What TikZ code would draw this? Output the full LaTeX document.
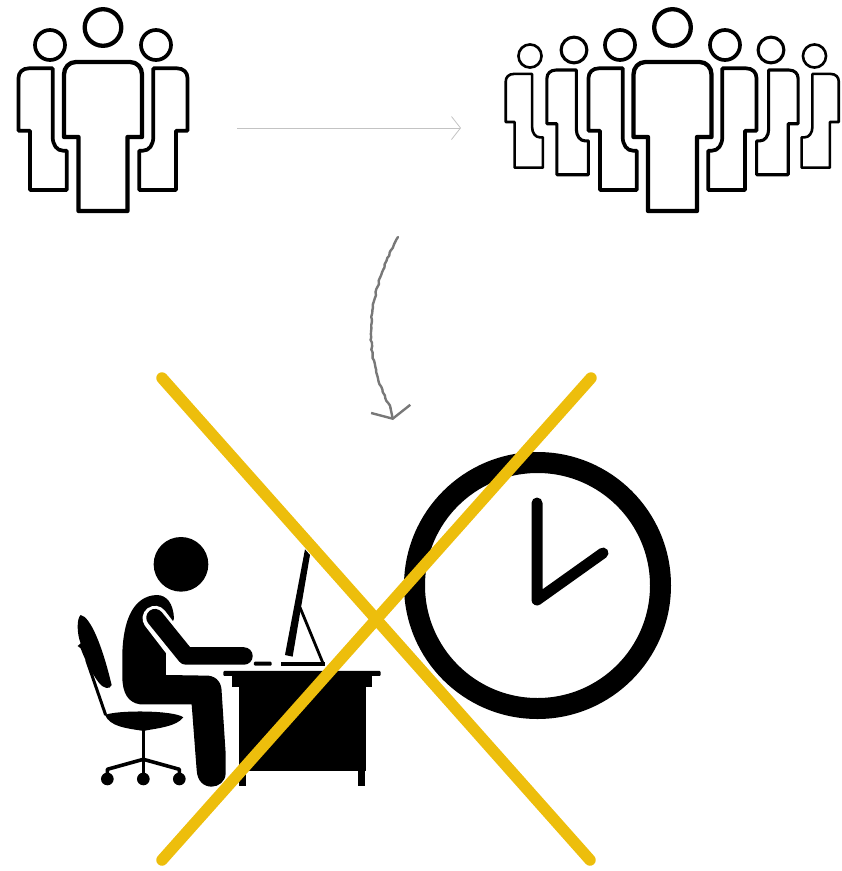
\documentclass[tikz,border=0pt]{standalone}
\usepackage{xcolor}
\usetikzlibrary{arrows.meta,decorations.pathmorphing}
\definecolor{crossyellow}{RGB}{237,190,12}
\definecolor{thingrey}{RGB}{195,195,195}
\definecolor{handgrey}{RGB}{120,120,120}
\tikzset{
  headman/.pic={
    \draw[line join=round] (0,0) circle[radius=18.3];
    \draw[line join=round] (-27,34.5) -- (27,34.5) .. controls (34,34.5) and (39,40) .. (39,47) -- (39,109.5) -- (24.5,109.5) -- (24.5,183.5) -- (-24.5,183.5) -- (-24.5,109.5) -- (-39,109.5) -- (-39,47) .. controls (-39,40) and (-34,34.5) .. (-27,34.5) -- cycle;
  },
  sideman/.pic={
    \draw[line join=round] (0,0) circle[radius=15];
    \draw[line join=round] (2.7,23.3) -- (-21,23.3) .. controls (-27.5,23.3) and (-31.5,27.5) .. (-31.5,33) -- (-31.5,85.7) -- (-20,85.7) -- (-20,145) -- (16.7,145) -- (16.7,105.7) -- (13,105.7) .. controls (7,105.7) and (2.7,100) .. (2.7,92) -- cycle;
  },
  crossline/.style={crossyellow, line width=11.5pt, line cap=round},
  clockline/.style={black, line width=11pt, line cap=round, line join=round},
  chairline/.style={black, line width=3.6pt},
  handline/.style={handgrey, line width=2.4pt, line cap=round, line join=round}
}
\begin{document}
\begin{tikzpicture}[x=1pt, y=-1pt]
\useasboundingbox (0,0) rectangle (842,871);
% small group
\pic[line width=4.3pt] at (103,27.5) {headman};
\pic[line width=3.7pt] at (50,45) {sideman};
\pic[line width=3.7pt, xscale=-1] at (156,45) {sideman};
% large group
\pic[line width=4.3pt] at (672.5,27.5) {headman};
\foreach \x/\y/\s/\w in {620/45/1/3.7, 574/50/.86/3.1, 530/56/.77/2.6}
  \pic[line width=\w pt, scale=\s] at (\x,\y) {sideman};
\foreach \x/\y/\s/\w in {725/45/1/3.7, 771/50/.86/3.1, 814.5/56/.77/2.6}
  \pic[line width=\w pt, scale=\s, xscale=-1] at (\x,\y) {sideman};
% arrows
\coordinate (growstart) at (237,128);
\coordinate (growend) at (461,128);
\draw[thingrey, line width=0.8pt, -{Straight Barb[length=9pt,width=23pt]}] (growstart) -- (growend);
\coordinate (downstart) at (398,237);
\coordinate (downneck) at (390.5,408);
\coordinate (downend) at (393,420);
\draw[handline, decorate, decoration={random steps, segment length=3pt, amplitude=0.7pt}] (downstart) .. controls (370,290) and (358,345) .. (downneck);
\draw[handline, -{Straight Barb[length=10pt,width=40pt]}] (downneck) -- (downend);
% clock
\node[draw=black, line width=21pt, circle, minimum size=246pt, inner sep=0pt] (clockface) at (537.5,585.5) {};
\draw[clockline] (537,503) -- (537,600) -- (603,553);
% worker
\begin{scope}[shift={(60,520)}, x=0.3333pt, y=-0.3333pt]
\fill (363,133) circle[radius=82];
\fill (290,225) .. controls (320,225) and (340,250) .. (342,295) -- (330,330) -- (318,390) -- (318,465) -- (445,467) .. controls (472,470) and (485,490) .. (485,515) -- (497,700) -- (497,760) .. controls (497,785) and (475,800) .. (455,800) .. controls (432,800) and (412,785) .. (410,750) -- (395,553) -- (240,553) .. controls (205,548) and (187,520) .. (187,470) -- (187,400) .. controls (190,300) and (220,228) .. (290,225) -- cycle;
\draw[white, line width=25pt, line cap=round] (285,295) -- (372,408);
\draw[black, line width=17.5pt, line cap=round, line join=round] (285,293) -- (378,408) -- (552,408);
% chair
\fill (62,285) .. controls (90,290) and (125,370) .. (155,495) .. controls (150,510) and (130,505) .. (118,490) .. controls (95,460) and (75,420) .. (62,385) -- (53,378) -- (62,370) .. controls (50,340) and (50,295) .. (62,285) -- cycle;
\draw[black, line width=3pt] (80,420) -- (137,585);
\fill (135,585) .. controls (170,570) and (340,570) .. (370,592) .. controls (350,620) and (290,625) .. (255,632) -- (245,632) .. controls (200,625) and (150,620) .. (135,585) -- cycle;
\draw[black, line width=3.6pt] (250,625) -- (250,775);
\draw[chairline, line join=round] (142,775) -- (142,748) -- (250,718) -- (358,748) -- (358,775);
\foreach \x in {142,250,358}
  \fill (\x,777) circle[radius=19];
% desk
\fill[rounded corners=1pt] (490,453) rectangle (962,468);
\fill (515,468) rectangle (935,500);
\fill (538,500) rectangle (917,752);
\fill (538,750) rectangle (558,798);
\fill (893,750) rectangle (915,798);
% monitor
\fill (735,88) -- (750,105) -- (698,410) -- (675,405) -- cycle;
\draw[black, line width=2.8pt] (720,262) -- (790,432);
\fill (662,425) -- (795,425) -- (795,437) -- (662,437) -- cycle;
\fill[rounded corners=1pt] (582,425) rectangle (635,437);
\end{scope}
% cross
\coordinate (crossa) at (162,378);
\coordinate (crossb) at (590,860);
\coordinate (crossc) at (591,378);
\coordinate (crossd) at (162,860);
\draw[crossline] (crossa) -- (crossb);
\draw[crossline] (crossc) -- (crossd);
\end{tikzpicture}
\end{document}
